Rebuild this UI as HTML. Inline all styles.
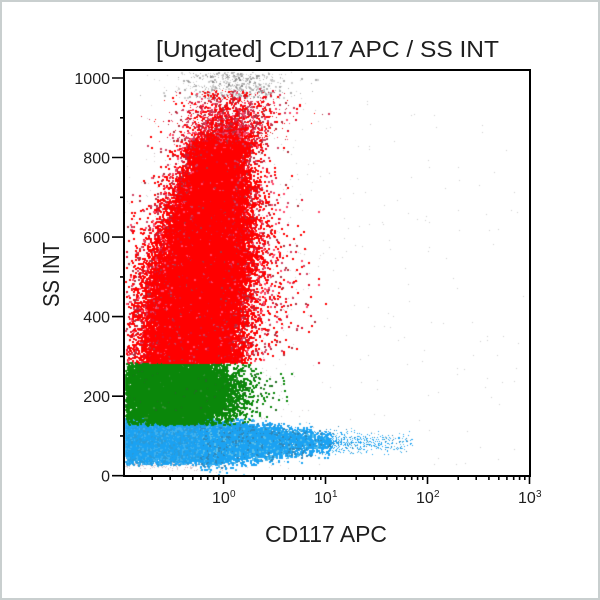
<!DOCTYPE html>
<html><head><meta charset="utf-8">
<style>
html,body{margin:0;padding:0;background:#fff;}
#wrap{position:relative;width:600px;height:600px;overflow:hidden;background:#fff;}
#wrap:after{content:"";position:absolute;left:0;top:0;width:596px;height:596px;border:2px solid #c9cfcf;}
canvas{position:absolute;left:0;top:0;}
svg{position:absolute;left:0;top:0;}
text{font-family:"Liberation Sans","DejaVu Sans",sans-serif;fill:#1e1e1e;}
</style></head>
<body>
<div id="wrap">
<canvas id="c" width="600" height="600"></canvas>
<svg width="600" height="600" viewBox="0 0 600 600">
  <rect x="124" y="70" width="406" height="406" fill="none" stroke="#000" stroke-width="2"/>
  <path stroke="#000" stroke-width="1.6" fill="none" d="
  M112 78H124 M112 157.5H124 M112 237.1H124 M112 316.6H124 M112 396.2H124 M112 475.7H124
  M120 117.8H124 M120 197.3H124 M120 276.9H124 M120 356.4H124 M120 435.9H124
  M223.5 476V484 M325.5 476V484 M427.5 476V484 M529.5 476V484
  M152.2 476V480 M170.2 476V480 M182.9 476V480 M192.8 476V480 M200.9 476V480 M207.7 476V480 M213.6 476V480 M218.8 476V480
  M254.2 476V480 M272.2 476V480 M284.9 476V480 M294.8 476V480 M302.9 476V480 M309.7 476V480 M315.6 476V480 M320.8 476V480
  M356.2 476V480 M374.2 476V480 M386.9 476V480 M396.8 476V480 M404.9 476V480 M411.7 476V480 M417.6 476V480 M422.8 476V480
  M458.2 476V480 M476.2 476V480 M488.9 476V480 M498.8 476V480 M506.9 476V480 M513.7 476V480 M519.6 476V480 M524.8 476V480"/>
  <g font-size="16" text-anchor="end">
    <text x="110" y="83.8">1000</text>
    <text x="110" y="163.3">800</text>
    <text x="110" y="242.9">600</text>
    <text x="110" y="322.4">400</text>
    <text x="110" y="402">200</text>
    <text x="110" y="481.5">0</text>
  </g>
  <g font-size="16">
    <text x="212" y="503">10</text><text x="230" y="497" font-size="10">0</text>
    <text x="314" y="503">10</text><text x="332" y="497" font-size="10">1</text>
    <text x="416" y="503">10</text><text x="434" y="497" font-size="10">2</text>
    <text x="518" y="503">10</text><text x="536" y="497" font-size="10">3</text>
  </g>
  <text x="156" y="57" font-size="23" textLength="343" lengthAdjust="spacingAndGlyphs">[Ungated] CD117 APC / SS INT</text>
  <text x="265" y="542" font-size="23" textLength="122" lengthAdjust="spacingAndGlyphs">CD117 APC</text>
  <text transform="translate(59,274.5) rotate(-90)" text-anchor="middle" font-size="23" textLength="65" lengthAdjust="spacingAndGlyphs">SS INT</text>
</svg>
</div>
<script>
(function(){
var cv=document.getElementById('c');var ctx=cv.getContext('2d');
var s=987654321;
function R(){s|=0;s=s+0x6D2B79F5|0;var t=Math.imul(s^s>>>15,1|s);t=t+Math.imul(t^t>>>7,61|t)^t;return((t^t>>>14)>>>0)/4294967296;}
function G(){var u=R()||1e-9,v=R();return Math.sqrt(-2*Math.log(u))*Math.cos(2*Math.PI*v);}
function interp(tab,v){if(v<=tab[0][0])return tab[0][1];for(var k=1;k<tab.length;k++){if(v<=tab[k][0]){var a=tab[k-1],b=tab[k];return a[1]+(b[1]-a[1])*(v-a[0])/(b[0]-a[0]);}}return tab[tab.length-1][1];}
ctx.save();
ctx.beginPath();ctx.rect(125,71,404,404);ctx.clip();
function dot(x,y,c,sz){ctx.fillStyle=c;ctx.fillRect(Math.round(x),Math.round(y),sz,sz);}
var i,x,y;
// scattered light gray
for(i=0;i<260;i++){x=240+285*Math.pow(R(),1.4);y=100+370*R();dot(x,y,'rgba(185,185,185,0.7)',1);}
for(i=0;i<900;i++){x=200+50*G();y=290+100*G();dot(x,y,'rgba(175,160,165,0.45)',1);}
for(i=0;i<300;i++){x=170+35*G();y=464+3*G();dot(x,y,'rgba(190,165,175,0.6)',1);}
// gray cloud top
for(i=0;i<550;i++){y=72+26*R();x=235+28*G();dot(x,y,R()<0.4?'rgba(110,110,110,0.55)':'rgba(170,170,170,0.55)',R()<0.35?2:1);}
// blue body
var bl=['#1ba2f2','#1ba2f2','#1ba2f2','#2a9ad8','#3fb0ee'];
for(i=0;i<19000;i++){y=438+11*G();if(y<417||y>463+2*R())continue;x=158+33*G();if(x<125)continue;dot(x,y,bl[(R()*5)|0],2);}
// blue tail
for(i=0;i<10000;i++){x=200-45*Math.log(R()||1e-9);if(x>412)continue;var f=Math.max(0.5,1-(x-200)/320);y=440+(x-200)*0.015+10*f*G();if(y<422)continue;
 var sz=x>330?1:2; if(x>280&&R()<0.3)sz=1;
 dot(x,y,R()<0.75?'#1ba2f2':(R()<0.5?'#2f86b8':'#58bde8'),sz);}
// green
var gr=['#0a870a','#0a870a','#0a870a','#1f6f1f','#2f8f2f'];
for(i=0;i<17000;i++){y=391+17*G();if(y<362||y>423+2*R())continue;var w=R()<0.08?1.5:1;x=172+28*w*G();if(x<125)continue;dot(x,y,w>1?gr[(R()*5)|0]:'#0a870a',2);}
// red
var CT=[[90,235],[140,220],[160,216],[200,210],[250,204],[300,195],[362,190]];
var SX=[[90,28],[140,13],[160,11],[200,16],[250,20],[300,22],[362,21]];
var rd=['#ff0000','#ff0000','#ff0000','#e0102a','#b0303f','#ff4a6a','#d04060'];
for(i=0;i<66000;i++){
 var top=false;
 if(R()<0.97){y=146+216*R();if(y<172)y-=Math.abs(G())*7*(172-y)/26;}else{y=148-Math.abs(G())*22;top=true;if(y<88)continue;}
 var cx=interp(CT,y), sx=interp(SX,y);
 var ww=R()<0.13?1.8:1;
 x=cx+sx*ww*G();if(x<125)continue;
 var halo=(ww>1)||top;
 dot(x,y,halo?rd[(R()*7)|0]:'#ff0000',top&&R()<0.4?1:2);}
// extra top red speckles
for(i=0;i<500;i++){y=90+50*R();x=232+28*G();dot(x,y,rd[(R()*7)|0],R()<0.5?2:1);}
ctx.restore();
})();
</script>
</body></html>
